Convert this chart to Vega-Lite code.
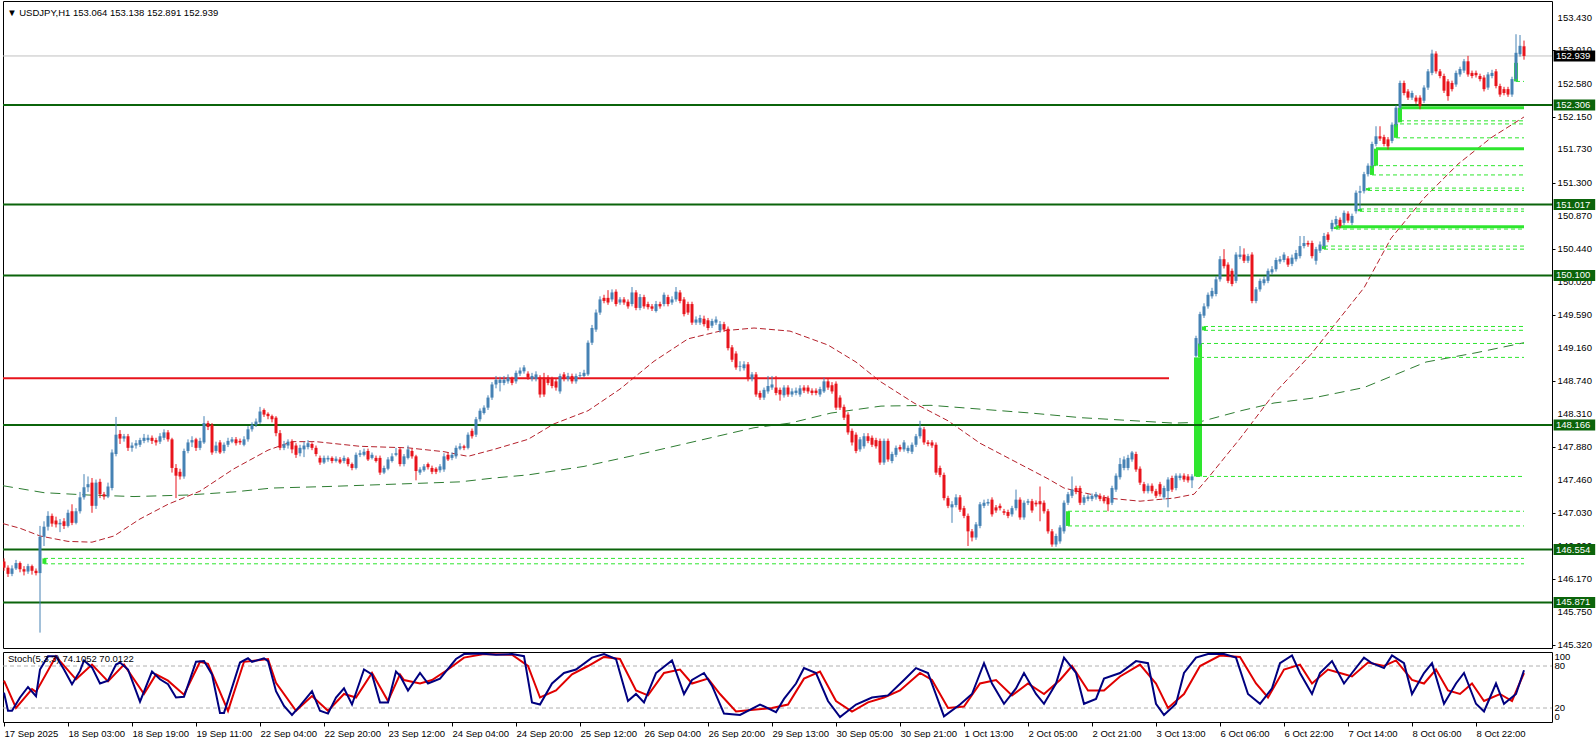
{
"$schema":"https://vega.github.io/schema/vega-lite/v6.json",
"padding":{"left":2,"top":0,"right":0,"bottom":0},
"spacing":4,
"bounds":"flush",
"background":"white",
"config":{"view":{"stroke":"#000000","strokeWidth":1},"font":"Liberation Sans","axis":{"labelFont":"Liberation Sans","labelFontSize":9.5,"labelColor":"#000","tickColor":"#000","domain":false,"grid":false,"labelOverlap":false,"labelBound":false}},
"datasets":{
"cd":[
{"i":0,"o":146.40,"h":146.44,"l":146.28,"c":146.32},{"i":1,"o":146.32,"h":146.35,"l":146.20,"c":146.24},{"i":2,"o":146.24,"h":146.35,"l":146.21,"c":146.31},{"i":3,"o":146.31,"h":146.42,"l":146.29,"c":146.38},{"i":4,"o":146.38,"h":146.40,"l":146.26,"c":146.30},{"i":5,"o":146.30,"h":146.34,"l":146.22,"c":146.27},{"i":6,"o":146.27,"h":146.37,"l":146.24,"c":146.34},{"i":7,"o":146.34,"h":146.36,"l":146.23,"c":146.28},{"i":8,"o":146.28,"h":146.31,"l":146.22,"c":146.25},{"i":9,"o":146.25,"h":146.86,"l":145.48,"c":146.72},
{"i":10,"o":146.72,"h":146.92,"l":146.60,"c":146.85},{"i":11,"o":146.85,"h":147.05,"l":146.80,"c":146.99},{"i":12,"o":146.99,"h":147.02,"l":146.85,"c":146.89},{"i":13,"o":146.93,"h":146.98,"l":146.84,"c":146.88},{"i":14,"o":146.88,"h":146.95,"l":146.78,"c":146.90},{"i":15,"o":146.92,"h":146.96,"l":146.82,"c":146.86},{"i":16,"o":146.86,"h":147.07,"l":146.84,"c":147.03},{"i":17,"o":147.05,"h":147.14,"l":146.87,"c":146.90},{"i":18,"o":146.90,"h":147.09,"l":146.88,"c":147.05},{"i":19,"o":147.05,"h":147.30,"l":147.02,"c":147.23},
{"i":20,"o":147.23,"h":147.53,"l":147.20,"c":147.36},{"i":21,"o":147.36,"h":147.50,"l":147.30,"c":147.40},{"i":22,"o":147.42,"h":147.48,"l":147.03,"c":147.12},{"i":23,"o":147.12,"h":147.46,"l":147.08,"c":147.42},{"i":24,"o":147.43,"h":147.47,"l":147.22,"c":147.27},{"i":25,"o":147.27,"h":147.30,"l":147.20,"c":147.24},{"i":26,"o":147.24,"h":147.42,"l":147.22,"c":147.37},{"i":27,"o":147.35,"h":147.85,"l":147.32,"c":147.81},{"i":28,"o":147.79,"h":148.27,"l":147.76,"c":148.04},{"i":29,"o":148.05,"h":148.10,"l":147.92,"c":147.99},
{"i":30,"o":147.99,"h":148.05,"l":147.95,"c":148.02},{"i":31,"o":148.02,"h":148.05,"l":147.83,"c":147.87},{"i":32,"o":147.87,"h":147.94,"l":147.82,"c":147.90},{"i":33,"o":147.90,"h":147.97,"l":147.86,"c":147.93},{"i":34,"o":147.91,"h":148.00,"l":147.88,"c":147.97},{"i":35,"o":147.96,"h":148.05,"l":147.93,"c":148.00},{"i":36,"o":147.97,"h":148.04,"l":147.94,"c":148.00},{"i":37,"o":148.00,"h":148.03,"l":147.92,"c":147.96},{"i":38,"o":147.97,"h":148.00,"l":147.90,"c":147.94},{"i":39,"o":147.95,"h":148.06,"l":147.92,"c":148.02},
{"i":40,"o":148.00,"h":148.11,"l":147.97,"c":148.07},{"i":41,"o":148.07,"h":148.10,"l":147.95,"c":147.98},{"i":42,"o":147.98,"h":148.00,"l":147.55,"c":147.61},{"i":43,"o":147.61,"h":147.66,"l":147.22,"c":147.51},{"i":44,"o":147.56,"h":147.60,"l":147.46,"c":147.50},{"i":45,"o":147.50,"h":147.86,"l":147.47,"c":147.83},{"i":46,"o":147.83,"h":147.98,"l":147.80,"c":147.94},{"i":47,"o":147.94,"h":148.02,"l":147.88,"c":147.97},{"i":48,"o":147.98,"h":148.00,"l":147.83,"c":147.87},{"i":49,"o":147.87,"h":148.00,"l":147.84,"c":147.96},
{"i":50,"o":147.94,"h":148.28,"l":147.92,"c":148.19},{"i":51,"o":148.19,"h":148.22,"l":148.10,"c":148.14},{"i":52,"o":148.17,"h":148.19,"l":147.78,"c":147.81},{"i":53,"o":147.83,"h":147.95,"l":147.80,"c":147.90},{"i":54,"o":147.94,"h":147.97,"l":147.79,"c":147.81},{"i":55,"o":147.83,"h":147.94,"l":147.80,"c":147.91},{"i":56,"o":147.91,"h":148.00,"l":147.88,"c":147.96},{"i":57,"o":147.95,"h":148.01,"l":147.93,"c":147.98},{"i":58,"o":147.98,"h":148.01,"l":147.90,"c":147.93},{"i":59,"o":147.96,"h":147.99,"l":147.91,"c":147.94},
{"i":60,"o":147.91,"h":148.02,"l":147.89,"c":147.98},{"i":61,"o":147.98,"h":148.15,"l":147.95,"c":148.11},{"i":62,"o":148.11,"h":148.20,"l":148.08,"c":148.17},{"i":63,"o":148.17,"h":148.25,"l":148.14,"c":148.21},{"i":64,"o":148.20,"h":148.40,"l":148.18,"c":148.34},{"i":65,"o":148.36,"h":148.38,"l":148.27,"c":148.30},{"i":66,"o":148.31,"h":148.33,"l":148.24,"c":148.28},{"i":67,"o":148.28,"h":148.30,"l":148.20,"c":148.24},{"i":68,"o":148.26,"h":148.28,"l":148.02,"c":148.06},{"i":69,"o":148.06,"h":148.10,"l":147.84,"c":147.87},
{"i":70,"o":147.87,"h":147.96,"l":147.84,"c":147.92},{"i":71,"o":147.90,"h":147.98,"l":147.86,"c":147.95},{"i":72,"o":147.95,"h":147.98,"l":147.80,"c":147.85},{"i":73,"o":147.90,"h":147.93,"l":147.74,"c":147.78},{"i":74,"o":147.80,"h":147.91,"l":147.76,"c":147.87},{"i":75,"o":147.85,"h":147.95,"l":147.75,"c":147.90},{"i":76,"o":147.88,"h":147.97,"l":147.85,"c":147.93},{"i":77,"o":147.92,"h":147.94,"l":147.84,"c":147.87},{"i":78,"o":147.87,"h":147.90,"l":147.76,"c":147.79},{"i":79,"o":147.74,"h":147.77,"l":147.65,"c":147.68},
{"i":80,"o":147.68,"h":147.77,"l":147.66,"c":147.74},{"i":81,"o":147.72,"h":147.77,"l":147.69,"c":147.74},{"i":82,"o":147.74,"h":147.76,"l":147.67,"c":147.70},{"i":83,"o":147.70,"h":147.76,"l":147.68,"c":147.73},{"i":84,"o":147.72,"h":147.75,"l":147.66,"c":147.68},{"i":85,"o":147.70,"h":147.77,"l":147.67,"c":147.74},{"i":86,"o":147.73,"h":147.75,"l":147.63,"c":147.66},{"i":87,"o":147.66,"h":147.68,"l":147.58,"c":147.61},{"i":88,"o":147.61,"h":147.81,"l":147.59,"c":147.78},{"i":89,"o":147.78,"h":147.84,"l":147.75,"c":147.80},
{"i":90,"o":147.78,"h":147.86,"l":147.76,"c":147.82},{"i":91,"o":147.83,"h":147.86,"l":147.70,"c":147.72},{"i":92,"o":147.74,"h":147.81,"l":147.72,"c":147.78},{"i":93,"o":147.74,"h":147.77,"l":147.68,"c":147.70},{"i":94,"o":147.74,"h":147.77,"l":147.52,"c":147.55},{"i":95,"o":147.55,"h":147.64,"l":147.53,"c":147.61},{"i":96,"o":147.60,"h":147.75,"l":147.58,"c":147.72},{"i":97,"o":147.70,"h":147.80,"l":147.68,"c":147.76},{"i":98,"o":147.78,"h":147.87,"l":147.76,"c":147.80},{"i":99,"o":147.85,"h":147.88,"l":147.63,"c":147.66},
{"i":100,"o":147.66,"h":147.79,"l":147.63,"c":147.76},{"i":101,"o":147.74,"h":147.90,"l":147.72,"c":147.85},{"i":102,"o":147.83,"h":147.86,"l":147.73,"c":147.76},{"i":103,"o":147.76,"h":147.78,"l":147.45,"c":147.57},{"i":104,"o":147.55,"h":147.62,"l":147.52,"c":147.59},{"i":105,"o":147.58,"h":147.66,"l":147.56,"c":147.63},{"i":106,"o":147.66,"h":147.68,"l":147.59,"c":147.62},{"i":107,"o":147.61,"h":147.64,"l":147.53,"c":147.56},{"i":108,"o":147.60,"h":147.62,"l":147.53,"c":147.56},{"i":109,"o":147.58,"h":147.66,"l":147.55,"c":147.63},
{"i":110,"o":147.59,"h":147.80,"l":147.56,"c":147.76},{"i":111,"o":147.78,"h":147.81,"l":147.70,"c":147.72},{"i":112,"o":147.74,"h":147.81,"l":147.71,"c":147.78},{"i":113,"o":147.76,"h":147.90,"l":147.73,"c":147.87},{"i":114,"o":147.86,"h":147.93,"l":147.84,"c":147.89},{"i":115,"o":147.89,"h":147.91,"l":147.84,"c":147.87},{"i":116,"o":147.87,"h":148.07,"l":147.85,"c":148.04},{"i":117,"o":148.09,"h":148.12,"l":147.99,"c":148.02},{"i":118,"o":148.04,"h":148.27,"l":148.01,"c":148.24},{"i":119,"o":148.24,"h":148.38,"l":148.21,"c":148.35},
{"i":120,"o":148.32,"h":148.42,"l":148.30,"c":148.39},{"i":121,"o":148.39,"h":148.55,"l":148.36,"c":148.52},{"i":122,"o":148.52,"h":148.72,"l":148.49,"c":148.69},{"i":123,"o":148.69,"h":148.80,"l":148.64,"c":148.75},{"i":124,"o":148.71,"h":148.79,"l":148.60,"c":148.75},{"i":125,"o":148.71,"h":148.80,"l":148.68,"c":148.75},{"i":126,"o":148.73,"h":148.82,"l":148.70,"c":148.78},{"i":127,"o":148.76,"h":148.79,"l":148.68,"c":148.71},{"i":128,"o":148.73,"h":148.87,"l":148.70,"c":148.84},{"i":129,"o":148.83,"h":148.91,"l":148.80,"c":148.87},
{"i":130,"o":148.86,"h":148.94,"l":148.83,"c":148.91},{"i":131,"o":148.83,"h":148.86,"l":148.75,"c":148.78},{"i":132,"o":148.76,"h":148.84,"l":148.73,"c":148.80},{"i":133,"o":148.76,"h":148.86,"l":148.73,"c":148.82},{"i":134,"o":148.78,"h":148.81,"l":148.52,"c":148.56},{"i":135,"o":148.78,"h":148.84,"l":148.53,"c":148.56},{"i":136,"o":148.78,"h":148.81,"l":148.68,"c":148.71},{"i":137,"o":148.76,"h":148.79,"l":148.64,"c":148.67},{"i":138,"o":148.73,"h":148.76,"l":148.61,"c":148.65},{"i":139,"o":148.60,"h":148.83,"l":148.57,"c":148.80},
{"i":140,"o":148.82,"h":148.85,"l":148.73,"c":148.76},{"i":141,"o":148.76,"h":148.84,"l":148.73,"c":148.80},{"i":142,"o":148.80,"h":148.83,"l":148.70,"c":148.73},{"i":143,"o":148.73,"h":148.83,"l":148.70,"c":148.80},{"i":144,"o":148.80,"h":148.85,"l":148.77,"c":148.81},{"i":145,"o":148.80,"h":148.88,"l":148.78,"c":148.84},{"i":146,"o":148.82,"h":149.26,"l":148.80,"c":149.23},{"i":147,"o":149.23,"h":149.46,"l":149.20,"c":149.42},{"i":148,"o":149.40,"h":149.66,"l":149.37,"c":149.62},{"i":149,"o":149.62,"h":149.83,"l":149.59,"c":149.79},
{"i":150,"o":149.81,"h":149.85,"l":149.74,"c":149.77},{"i":151,"o":149.81,"h":149.91,"l":149.72,"c":149.75},{"i":152,"o":149.79,"h":149.92,"l":149.76,"c":149.88},{"i":153,"o":149.89,"h":149.92,"l":149.70,"c":149.73},{"i":154,"o":149.75,"h":149.82,"l":149.72,"c":149.79},{"i":155,"o":149.79,"h":149.82,"l":149.72,"c":149.75},{"i":156,"o":149.76,"h":149.79,"l":149.67,"c":149.70},{"i":157,"o":149.73,"h":149.95,"l":149.70,"c":149.88},{"i":158,"o":149.88,"h":149.91,"l":149.65,"c":149.68},{"i":159,"o":149.68,"h":149.86,"l":149.65,"c":149.82},
{"i":160,"o":149.82,"h":149.85,"l":149.67,"c":149.70},{"i":161,"o":149.73,"h":149.76,"l":149.66,"c":149.69},{"i":162,"o":149.70,"h":149.73,"l":149.64,"c":149.67},{"i":163,"o":149.64,"h":149.77,"l":149.62,"c":149.73},{"i":164,"o":149.73,"h":149.76,"l":149.67,"c":149.70},{"i":165,"o":149.73,"h":149.88,"l":149.70,"c":149.85},{"i":166,"o":149.82,"h":149.85,"l":149.70,"c":149.73},{"i":167,"o":149.75,"h":149.83,"l":149.72,"c":149.79},{"i":168,"o":149.79,"h":149.95,"l":149.76,"c":149.89},{"i":169,"o":149.88,"h":149.91,"l":149.74,"c":149.77},
{"i":170,"o":149.79,"h":149.82,"l":149.57,"c":149.60},{"i":171,"o":149.73,"h":149.76,"l":149.59,"c":149.62},{"i":172,"o":149.73,"h":149.76,"l":149.46,"c":149.49},{"i":173,"o":149.49,"h":149.57,"l":149.46,"c":149.53},{"i":174,"o":149.49,"h":149.59,"l":149.46,"c":149.55},{"i":175,"o":149.54,"h":149.58,"l":149.44,"c":149.47},{"i":176,"o":149.52,"h":149.55,"l":149.39,"c":149.42},{"i":177,"o":149.45,"h":149.54,"l":149.42,"c":149.51},{"i":178,"o":149.49,"h":149.57,"l":149.46,"c":149.53},{"i":179,"o":149.39,"h":149.51,"l":149.36,"c":149.47},
{"i":180,"o":149.47,"h":149.50,"l":149.37,"c":149.40},{"i":181,"o":149.41,"h":149.44,"l":149.13,"c":149.16},{"i":182,"o":149.17,"h":149.20,"l":148.98,"c":149.01},{"i":183,"o":149.09,"h":149.12,"l":148.88,"c":148.91},{"i":184,"o":148.92,"h":148.99,"l":148.86,"c":148.93},{"i":185,"o":148.90,"h":148.99,"l":148.87,"c":148.95},{"i":186,"o":148.95,"h":148.98,"l":148.73,"c":148.76},{"i":187,"o":148.76,"h":148.85,"l":148.73,"c":148.82},{"i":188,"o":148.82,"h":148.85,"l":148.53,"c":148.56},{"i":189,"o":148.58,"h":148.61,"l":148.49,"c":148.52},
{"i":190,"o":148.52,"h":148.65,"l":148.49,"c":148.62},{"i":191,"o":148.60,"h":148.80,"l":148.57,"c":148.67},{"i":192,"o":148.65,"h":148.80,"l":148.62,"c":148.69},{"i":193,"o":148.65,"h":148.80,"l":148.55,"c":148.58},{"i":194,"o":148.62,"h":148.65,"l":148.48,"c":148.56},{"i":195,"o":148.55,"h":148.68,"l":148.52,"c":148.65},{"i":196,"o":148.65,"h":148.68,"l":148.53,"c":148.56},{"i":197,"o":148.56,"h":148.64,"l":148.53,"c":148.60},{"i":198,"o":148.58,"h":148.65,"l":148.55,"c":148.61},{"i":199,"o":148.56,"h":148.68,"l":148.53,"c":148.64},
{"i":200,"o":148.65,"h":148.68,"l":148.58,"c":148.61},{"i":201,"o":148.65,"h":148.68,"l":148.57,"c":148.60},{"i":202,"o":148.61,"h":148.64,"l":148.55,"c":148.58},{"i":203,"o":148.61,"h":148.64,"l":148.55,"c":148.58},{"i":204,"o":148.56,"h":148.66,"l":148.53,"c":148.63},{"i":205,"o":148.60,"h":148.78,"l":148.58,"c":148.73},{"i":206,"o":148.73,"h":148.76,"l":148.62,"c":148.65},{"i":207,"o":148.68,"h":148.72,"l":148.57,"c":148.60},{"i":208,"o":148.70,"h":148.73,"l":148.36,"c":148.39},{"i":209,"o":148.52,"h":148.55,"l":148.36,"c":148.39},
{"i":210,"o":148.40,"h":148.43,"l":148.23,"c":148.26},{"i":211,"o":148.30,"h":148.33,"l":148.04,"c":148.07},{"i":212,"o":148.09,"h":148.12,"l":147.90,"c":147.94},{"i":213,"o":148.04,"h":148.07,"l":147.80,"c":147.83},{"i":214,"o":147.85,"h":148.01,"l":147.82,"c":147.98},{"i":215,"o":147.89,"h":148.06,"l":147.86,"c":148.02},{"i":216,"o":148.02,"h":148.06,"l":147.93,"c":147.96},{"i":217,"o":148.00,"h":148.03,"l":147.88,"c":147.91},{"i":218,"o":147.97,"h":148.00,"l":147.86,"c":147.89},{"i":219,"o":147.96,"h":147.99,"l":147.65,"c":147.68},
{"i":220,"o":147.68,"h":147.99,"l":147.65,"c":147.96},{"i":221,"o":147.96,"h":147.99,"l":147.69,"c":147.72},{"i":222,"o":147.70,"h":147.82,"l":147.67,"c":147.79},{"i":223,"o":147.78,"h":147.90,"l":147.75,"c":147.87},{"i":224,"o":147.88,"h":147.91,"l":147.82,"c":147.85},{"i":225,"o":147.85,"h":147.97,"l":147.82,"c":147.94},{"i":226,"o":147.83,"h":147.90,"l":147.80,"c":147.87},{"i":227,"o":147.82,"h":147.94,"l":147.79,"c":147.91},{"i":228,"o":147.91,"h":148.05,"l":147.88,"c":148.02},{"i":229,"o":148.02,"h":148.22,"l":147.99,"c":148.13},
{"i":230,"o":148.11,"h":148.14,"l":147.91,"c":147.94},{"i":231,"o":147.94,"h":147.97,"l":147.89,"c":147.92},{"i":232,"o":147.94,"h":147.97,"l":147.87,"c":147.90},{"i":233,"o":147.91,"h":147.94,"l":147.52,"c":147.55},{"i":234,"o":147.61,"h":147.64,"l":147.49,"c":147.52},{"i":235,"o":147.52,"h":147.55,"l":147.19,"c":147.22},{"i":236,"o":147.22,"h":147.25,"l":147.09,"c":147.12},{"i":237,"o":147.10,"h":147.18,"l":146.90,"c":147.14},{"i":238,"o":147.13,"h":147.27,"l":147.10,"c":147.23},{"i":239,"o":147.23,"h":147.26,"l":147.04,"c":147.07},
{"i":240,"o":147.09,"h":147.12,"l":146.96,"c":146.99},{"i":241,"o":146.99,"h":147.02,"l":146.60,"c":146.79},{"i":242,"o":146.79,"h":146.82,"l":146.66,"c":146.71},{"i":243,"o":146.71,"h":146.91,"l":146.68,"c":146.88},{"i":244,"o":146.86,"h":147.17,"l":146.83,"c":147.14},{"i":245,"o":147.12,"h":147.20,"l":147.09,"c":147.16},{"i":246,"o":147.15,"h":147.21,"l":147.12,"c":147.17},{"i":247,"o":147.20,"h":147.23,"l":146.98,"c":147.01},{"i":248,"o":147.10,"h":147.13,"l":147.03,"c":147.06},{"i":249,"o":147.12,"h":147.15,"l":147.06,"c":147.09},
{"i":250,"o":147.05,"h":147.08,"l":147.00,"c":147.03},{"i":251,"o":147.04,"h":147.07,"l":146.96,"c":146.99},{"i":252,"o":147.01,"h":147.12,"l":146.98,"c":147.09},{"i":253,"o":147.09,"h":147.33,"l":147.06,"c":147.20},{"i":254,"o":147.20,"h":147.23,"l":146.94,"c":146.97},{"i":255,"o":146.97,"h":147.19,"l":146.94,"c":147.16},{"i":256,"o":147.16,"h":147.21,"l":147.13,"c":147.18},{"i":257,"o":147.18,"h":147.21,"l":147.03,"c":147.06},{"i":258,"o":147.16,"h":147.19,"l":147.11,"c":147.14},{"i":259,"o":147.18,"h":147.37,"l":146.92,"c":147.14},
{"i":260,"o":147.16,"h":147.19,"l":147.02,"c":147.05},{"i":261,"o":147.05,"h":147.08,"l":146.76,"c":146.79},{"i":262,"o":146.79,"h":146.82,"l":146.59,"c":146.62},{"i":263,"o":146.62,"h":146.76,"l":146.59,"c":146.73},{"i":264,"o":146.66,"h":146.87,"l":146.63,"c":146.84},{"i":265,"o":146.79,"h":147.19,"l":146.76,"c":147.16},{"i":266,"o":147.16,"h":147.30,"l":147.13,"c":147.27},{"i":267,"o":147.25,"h":147.50,"l":147.22,"c":147.33},{"i":268,"o":147.35,"h":147.38,"l":147.27,"c":147.30},{"i":269,"o":147.35,"h":147.38,"l":147.13,"c":147.16},
{"i":270,"o":147.16,"h":147.26,"l":147.13,"c":147.23},{"i":271,"o":147.21,"h":147.27,"l":147.18,"c":147.24},{"i":272,"o":147.21,"h":147.28,"l":147.18,"c":147.25},{"i":273,"o":147.23,"h":147.30,"l":147.20,"c":147.27},{"i":274,"o":147.25,"h":147.28,"l":147.18,"c":147.21},{"i":275,"o":147.23,"h":147.26,"l":147.15,"c":147.18},{"i":276,"o":147.22,"h":147.25,"l":147.05,"c":147.14},{"i":277,"o":147.16,"h":147.38,"l":147.13,"c":147.35},{"i":278,"o":147.33,"h":147.54,"l":147.30,"c":147.51},{"i":279,"o":147.49,"h":147.74,"l":147.46,"c":147.66},
{"i":280,"o":147.61,"h":147.76,"l":147.58,"c":147.72},{"i":281,"o":147.61,"h":147.78,"l":147.58,"c":147.74},{"i":282,"o":147.72,"h":147.83,"l":147.69,"c":147.81},{"i":283,"o":147.79,"h":147.82,"l":147.56,"c":147.59},{"i":284,"o":147.60,"h":147.63,"l":147.39,"c":147.42},{"i":285,"o":147.40,"h":147.43,"l":147.28,"c":147.31},{"i":286,"o":147.31,"h":147.41,"l":147.28,"c":147.38},{"i":287,"o":147.38,"h":147.41,"l":147.28,"c":147.31},{"i":288,"o":147.31,"h":147.34,"l":147.22,"c":147.25},{"i":289,"o":147.40,"h":147.43,"l":147.24,"c":147.27},
{"i":290,"o":147.23,"h":147.38,"l":147.20,"c":147.35},{"i":291,"o":147.31,"h":147.49,"l":147.10,"c":147.46},{"i":292,"o":147.48,"h":147.51,"l":147.30,"c":147.33},{"i":293,"o":147.35,"h":147.54,"l":147.32,"c":147.51},{"i":294,"o":147.48,"h":147.54,"l":147.45,"c":147.51},{"i":295,"o":147.51,"h":147.54,"l":147.43,"c":147.46},{"i":296,"o":147.50,"h":147.53,"l":147.42,"c":147.45},{"i":297,"o":147.45,"h":147.53,"l":147.35,"c":147.50},{"i":298,"o":149.06,"h":149.32,"l":149.04,"c":149.29},{"i":299,"o":149.21,"h":149.63,"l":149.18,"c":149.60},
{"i":300,"o":149.58,"h":149.74,"l":149.55,"c":149.70},{"i":301,"o":149.70,"h":149.88,"l":149.67,"c":149.85},{"i":302,"o":149.83,"h":149.94,"l":149.80,"c":149.90},{"i":303,"o":149.86,"h":150.09,"l":149.83,"c":150.05},{"i":304,"o":150.05,"h":150.35,"l":150.02,"c":150.31},{"i":305,"o":150.31,"h":150.44,"l":150.19,"c":150.22},{"i":306,"o":150.24,"h":150.27,"l":150.00,"c":150.03},{"i":307,"o":150.16,"h":150.19,"l":149.96,"c":149.99},{"i":308,"o":150.03,"h":150.40,"l":150.00,"c":150.37},{"i":309,"o":150.34,"h":150.48,"l":150.31,"c":150.37},
{"i":310,"o":150.37,"h":150.45,"l":150.26,"c":150.29},{"i":311,"o":150.29,"h":150.38,"l":150.26,"c":150.35},{"i":312,"o":150.37,"h":150.40,"l":149.74,"c":149.77},{"i":313,"o":149.77,"h":149.95,"l":149.74,"c":149.92},{"i":314,"o":149.92,"h":150.06,"l":149.89,"c":150.03},{"i":315,"o":150.00,"h":150.09,"l":149.97,"c":150.05},{"i":316,"o":150.03,"h":150.19,"l":150.00,"c":150.16},{"i":317,"o":150.14,"h":150.22,"l":150.11,"c":150.18},{"i":318,"o":150.18,"h":150.33,"l":150.15,"c":150.30},{"i":319,"o":150.28,"h":150.35,"l":150.25,"c":150.31},
{"i":320,"o":150.30,"h":150.40,"l":150.27,"c":150.37},{"i":321,"o":150.32,"h":150.35,"l":150.21,"c":150.24},{"i":322,"o":150.25,"h":150.37,"l":150.22,"c":150.33},{"i":323,"o":150.31,"h":150.43,"l":150.28,"c":150.39},{"i":324,"o":150.35,"h":150.61,"l":150.32,"c":150.48},{"i":325,"o":150.48,"h":150.61,"l":150.45,"c":150.52},{"i":326,"o":150.52,"h":150.55,"l":150.47,"c":150.50},{"i":327,"o":150.52,"h":150.55,"l":150.32,"c":150.35},{"i":328,"o":150.29,"h":150.47,"l":150.24,"c":150.44},{"i":329,"o":150.42,"h":150.54,"l":150.39,"c":150.50},
{"i":330,"o":150.48,"h":150.65,"l":150.45,"c":150.61},{"i":331,"o":150.63,"h":150.66,"l":150.53,"c":150.56},{"i":332,"o":150.70,"h":150.82,"l":150.67,"c":150.78},{"i":333,"o":150.76,"h":150.87,"l":150.73,"c":150.83},{"i":334,"o":150.82,"h":150.85,"l":150.71,"c":150.74},{"i":335,"o":150.78,"h":150.94,"l":150.75,"c":150.91},{"i":336,"o":150.90,"h":150.93,"l":150.78,"c":150.81},{"i":337,"o":150.78,"h":150.90,"l":150.75,"c":150.87},{"i":338,"o":150.93,"h":151.20,"l":150.90,"c":151.17},{"i":339,"o":151.17,"h":151.26,"l":150.95,"c":151.19},
{"i":340,"o":151.19,"h":151.44,"l":151.16,"c":151.41},{"i":341,"o":151.41,"h":151.55,"l":151.38,"c":151.52},{"i":342,"o":151.52,"h":151.83,"l":151.49,"c":151.80},{"i":343,"o":151.80,"h":152.03,"l":151.77,"c":151.90},{"i":344,"o":151.90,"h":152.03,"l":151.84,"c":151.87},{"i":345,"o":151.89,"h":151.92,"l":151.77,"c":151.80},{"i":346,"o":151.86,"h":151.89,"l":151.73,"c":151.77},{"i":347,"o":151.84,"h":152.08,"l":151.81,"c":152.05},{"i":348,"o":152.05,"h":152.30,"l":152.02,"c":152.27},{"i":349,"o":152.27,"h":152.62,"l":152.24,"c":152.59},
{"i":350,"o":152.59,"h":152.62,"l":152.43,"c":152.46},{"i":351,"o":152.48,"h":152.51,"l":152.37,"c":152.40},{"i":352,"o":152.40,"h":152.49,"l":152.37,"c":152.46},{"i":353,"o":152.40,"h":152.43,"l":152.32,"c":152.35},{"i":354,"o":152.40,"h":152.43,"l":152.25,"c":152.29},{"i":355,"o":152.36,"h":152.56,"l":152.33,"c":152.53},{"i":356,"o":152.53,"h":152.77,"l":152.50,"c":152.74},{"i":357,"o":152.72,"h":153.02,"l":152.69,"c":152.97},{"i":358,"o":152.97,"h":153.00,"l":152.71,"c":152.74},{"i":359,"o":152.74,"h":152.77,"l":152.65,"c":152.68},
{"i":360,"o":152.68,"h":152.71,"l":152.46,"c":152.49},{"i":361,"o":152.61,"h":152.64,"l":152.36,"c":152.42},{"i":362,"o":152.59,"h":152.62,"l":152.48,"c":152.51},{"i":363,"o":152.57,"h":152.75,"l":152.54,"c":152.72},{"i":364,"o":152.70,"h":152.80,"l":152.67,"c":152.77},{"i":365,"o":152.75,"h":152.90,"l":152.72,"c":152.87},{"i":366,"o":152.87,"h":152.94,"l":152.67,"c":152.70},{"i":367,"o":152.72,"h":152.75,"l":152.65,"c":152.68},{"i":368,"o":152.72,"h":152.75,"l":152.66,"c":152.69},{"i":369,"o":152.68,"h":152.71,"l":152.61,"c":152.64},
{"i":370,"o":152.66,"h":152.69,"l":152.48,"c":152.51},{"i":371,"o":152.53,"h":152.73,"l":152.50,"c":152.70},{"i":372,"o":152.68,"h":152.76,"l":152.65,"c":152.72},{"i":373,"o":152.74,"h":152.77,"l":152.52,"c":152.55},{"i":374,"o":152.55,"h":152.58,"l":152.41,"c":152.44},{"i":375,"o":152.51,"h":152.54,"l":152.43,"c":152.46},{"i":376,"o":152.51,"h":152.54,"l":152.41,"c":152.44},{"i":377,"o":152.44,"h":152.67,"l":152.41,"c":152.64},{"i":378,"o":152.64,"h":153.22,"l":152.61,"c":152.98},{"i":379,"o":152.96,"h":153.21,"l":152.93,"c":153.07},
{"i":380,"o":153.064,"h":153.138,"l":152.891,"c":152.939}
],
"maR":[{"i":-0.25,"p":146.89},{"i":4,"p":146.83},{"i":9,"p":146.73},{"i":16,"p":146.66},{"i":22,"p":146.65},{"i":27.5,"p":146.73},{"i":34,"p":146.95},{"i":41,"p":147.14},{"i":49,"p":147.31},{"i":57.5,"p":147.60},{"i":66,"p":147.84},{"i":72,"p":147.95},{"i":78,"p":147.95},{"i":89,"p":147.89},{"i":101,"p":147.87},{"i":110,"p":147.82},{"i":116,"p":147.76},{"i":122.5,"p":147.85},{"i":131,"p":147.98},{"i":137.5,"p":148.18},{"i":146,"p":148.35},{"i":154,"p":148.63},{"i":162.5,"p":148.99},{"i":171,"p":149.28},{"i":179,"p":149.38},{"i":187.5,"p":149.42},{"i":196.5,"p":149.38},{"i":206,"p":149.20},{"i":213,"p":148.98},{"i":219,"p":148.73},{"i":227.5,"p":148.45},{"i":236,"p":148.22},{"i":244,"p":147.93},{"i":252.5,"p":147.70},{"i":261,"p":147.47},{"i":265,"p":147.35},{"i":269,"p":147.30},{"i":276,"p":147.22},{"i":284,"p":147.18},{"i":292.5,"p":147.22},{"i":297.5,"p":147.27},{"i":301,"p":147.48},{"i":309,"p":147.99},{"i":317.5,"p":148.57},{"i":326.75,"p":149.08},{"i":340,"p":149.94},{"i":346.75,"p":150.58},{"i":355,"p":151.10},{"i":363.5,"p":151.54},{"i":371.75,"p":151.88},{"i":380,"p":152.15}],
"maG":[{"i":-0.25,"p":147.38},{"i":10,"p":147.29},{"i":21,"p":147.26},{"i":32.5,"p":147.24},{"i":46,"p":147.26},{"i":57.5,"p":147.30},{"i":67,"p":147.35},{"i":81,"p":147.37},{"i":97.5,"p":147.40},{"i":114,"p":147.43},{"i":122.5,"p":147.48},{"i":131,"p":147.52},{"i":145,"p":147.63},{"i":160,"p":147.80},{"i":175,"p":147.98},{"i":187.5,"p":148.13},{"i":196.5,"p":148.19},{"i":206.75,"p":148.32},{"i":219.25,"p":148.41},{"i":231.75,"p":148.42},{"i":244.25,"p":148.37},{"i":256.75,"p":148.32},{"i":269.25,"p":148.26},{"i":276,"p":148.24},{"i":292.5,"p":148.19},{"i":298.5,"p":148.20},{"i":309.25,"p":148.35},{"i":317.5,"p":148.45},{"i":326.75,"p":148.51},{"i":340,"p":148.65},{"i":355.5,"p":148.98},{"i":368,"p":149.10},{"i":380,"p":149.23}],
"dash":[{"a":10,"b":380,"p":146.44},{"a":10,"b":380,"p":146.37},{"a":266,"b":380,"p":147.05},{"a":266,"b":380,"p":146.86},{"a":298,"b":380,"p":147.50},{"a":299,"b":380,"p":149.04},{"a":299,"b":380,"p":149.22},{"a":300,"b":380,"p":149.39},{"a":300,"b":380,"p":149.44},{"a":330,"b":380,"p":150.48},{"a":330,"b":380,"p":150.44},{"a":333,"b":380,"p":150.70},{"a":339,"b":380,"p":150.96},{"a":339,"b":380,"p":150.93},{"a":341,"b":380,"p":151.23},{"a":341,"b":380,"p":151.20},{"a":342,"b":380,"p":151.52},{"a":342,"b":380,"p":151.40},{"a":348,"b":380,"p":151.88},{"a":349,"b":380,"p":152.10},{"a":349,"b":380,"p":152.06},{"a":378,"b":380,"p":152.61}],
"thick":[{"a":349,"b":380,"p":152.27},{"a":343,"b":380,"p":151.74},{"a":333,"b":380,"p":150.73}],
"gbox":[{"a":9.6,"b":10.6,"p1":146.37,"p2":146.44},{"a":265.5,"b":266.5,"p1":146.86,"p2":147.05},{"a":297.5,"b":299.5,"p1":147.50,"p2":149.04},{"a":298.5,"b":299.5,"p1":149.04,"p2":149.22},{"a":299.5,"b":300.5,"p1":149.39,"p2":149.44},{"a":329.5,"b":330.5,"p1":150.44,"p2":150.48},{"a":332.5,"b":333.5,"p1":150.70,"p2":150.73},{"a":338.5,"b":339.5,"p1":150.93,"p2":150.96},{"a":340.5,"b":341.5,"p1":151.20,"p2":151.23},{"a":341.5,"b":342.5,"p1":151.40,"p2":151.52},{"a":342.5,"b":343.5,"p1":151.52,"p2":151.74},{"a":347.5,"b":348.5,"p1":151.88,"p2":152.06},{"a":348.5,"b":349.5,"p1":152.08,"p2":152.27},{"a":377.5,"b":378.5,"p1":152.61,"p2":152.85}],
"lv":[{"p":152.306},{"p":151.017},{"p":150.1},{"p":148.166},{"p":146.554},{"p":145.871}],
"tags":[{"p":152.939,"t":"152.939","k":"bid"},{"p":152.306,"t":"152.306","k":"lvl"},{"p":151.017,"t":"151.017","k":"lvl"},{"p":150.1,"t":"150.100","k":"lvl"},{"p":148.166,"t":"148.166","k":"lvl"},{"p":146.554,"t":"146.554","k":"lvl"},{"p":145.871,"t":"145.871","k":"lvl"}],
"yt":[{"p":145.32,"t":"145.320"},{"p":145.75,"t":"145.750"},{"p":146.17,"t":"146.170"},{"p":146.6,"t":"146.600"},{"p":147.03,"t":"147.030"},{"p":147.46,"t":"147.460"},{"p":147.88,"t":"147.880"},{"p":148.31,"t":"148.310"},{"p":148.74,"t":"148.740"},{"p":149.16,"t":"149.160"},{"p":149.59,"t":"149.590"},{"p":150.02,"t":"150.020"},{"p":150.44,"t":"150.440"},{"p":150.87,"t":"150.870"},{"p":151.3,"t":"151.300"},{"p":151.73,"t":"151.730"},{"p":152.15,"t":"152.150"},{"p":152.58,"t":"152.580"},{"p":153.01,"t":"153.010"},{"p":153.43,"t":"153.430"}],
"sk":[{"i":0,"v":42},{"i":1,"v":16},{"i":2,"v":16},{"i":4,"v":35},{"i":6,"v":50},{"i":8,"v":37},{"i":9,"v":75},{"i":11,"v":94},{"i":13,"v":94},{"i":15,"v":75},{"i":17,"v":54},{"i":19,"v":73},{"i":20,"v":88},{"i":22,"v":78},{"i":24,"v":55},{"i":26,"v":59},{"i":28,"v":82},{"i":29,"v":85},{"i":31,"v":75},{"i":34,"v":29},{"i":37,"v":72},{"i":39,"v":61},{"i":41,"v":54},{"i":43,"v":35},{"i":45,"v":36},{"i":48,"v":86},{"i":50,"v":87},{"i":52,"v":68},{"i":54,"v":13},{"i":55,"v":13},{"i":59,"v":85},{"i":61,"v":91},{"i":62,"v":86},{"i":65,"v":91},{"i":66,"v":87},{"i":68,"v":44},{"i":70,"v":23},{"i":72,"v":10},{"i":74,"v":23},{"i":77,"v":44},{"i":79,"v":16},{"i":81,"v":12},{"i":83,"v":35},{"i":85,"v":48},{"i":87,"v":25},{"i":90,"v":75},{"i":92,"v":68},{"i":94,"v":28},{"i":96,"v":28},{"i":98,"v":72},{"i":99,"v":66},{"i":101,"v":45},{"i":104,"v":70},{"i":106,"v":55},{"i":109,"v":62},{"i":113,"v":90},{"i":115,"v":97},{"i":119,"v":98},{"i":123,"v":96},{"i":127,"v":97},{"i":130,"v":94},{"i":132,"v":28},{"i":134,"v":25},{"i":137,"v":55},{"i":140,"v":70},{"i":143,"v":75},{"i":147,"v":92},{"i":150,"v":97},{"i":153,"v":90},{"i":156,"v":30},{"i":158,"v":40},{"i":160,"v":28},{"i":163,"v":70},{"i":167,"v":88},{"i":170,"v":40},{"i":172,"v":60},{"i":175,"v":70},{"i":177,"v":52},{"i":180,"v":12},{"i":184,"v":10},{"i":189,"v":25},{"i":193,"v":14},{"i":195,"v":33},{"i":198,"v":55},{"i":200,"v":77},{"i":203,"v":70},{"i":206,"v":30},{"i":209,"v":7},{"i":213,"v":25},{"i":217,"v":35},{"i":221,"v":38},{"i":225,"v":60},{"i":228,"v":77},{"i":231,"v":70},{"i":235,"v":8},{"i":239,"v":25},{"i":242,"v":40},{"i":245,"v":84},{"i":247,"v":55},{"i":250,"v":26},{"i":253,"v":48},{"i":255,"v":70},{"i":258,"v":40},{"i":260,"v":26},{"i":263,"v":55},{"i":265,"v":92},{"i":268,"v":70},{"i":270,"v":26},{"i":273,"v":33},{"i":275,"v":62},{"i":279,"v":70},{"i":283,"v":87},{"i":286,"v":84},{"i":288,"v":26},{"i":290,"v":10},{"i":293,"v":26},{"i":295,"v":70},{"i":298,"v":92},{"i":301,"v":97},{"i":305,"v":97},{"i":308,"v":92},{"i":311,"v":40},{"i":314,"v":26},{"i":317,"v":48},{"i":319,"v":84},{"i":322,"v":95},{"i":324,"v":70},{"i":327,"v":40},{"i":329,"v":70},{"i":332,"v":87},{"i":335,"v":55},{"i":337,"v":70},{"i":340,"v":92},{"i":342,"v":84},{"i":345,"v":77},{"i":347,"v":95},{"i":350,"v":84},{"i":352,"v":40},{"i":355,"v":70},{"i":357,"v":84},{"i":360,"v":26},{"i":363,"v":55},{"i":365,"v":70},{"i":368,"v":26},{"i":370,"v":15},{"i":373,"v":55},{"i":375,"v":26},{"i":378,"v":40},{"i":380,"v":74}],
"sd":[{"i":0,"v":59},{"i":3,"v":20},{"i":7,"v":47},{"i":8,"v":43},{"i":13,"v":94},{"i":14,"v":87},{"i":18,"v":61},{"i":22,"v":82},{"i":26,"v":58},{"i":30,"v":82},{"i":35,"v":40},{"i":38,"v":68},{"i":41,"v":59},{"i":45,"v":39},{"i":49,"v":86},{"i":51,"v":83},{"i":56,"v":16},{"i":60,"v":86},{"i":66,"v":90},{"i":68,"v":56},{"i":73,"v":16},{"i":77,"v":37},{"i":81,"v":16},{"i":85,"v":40},{"i":88,"v":35},{"i":92,"v":70},{"i":96,"v":30},{"i":99,"v":68},{"i":100,"v":60},{"i":104,"v":55},{"i":107,"v":60},{"i":111,"v":75},{"i":115,"v":92},{"i":120,"v":97},{"i":127,"v":96},{"i":131,"v":80},{"i":134,"v":35},{"i":138,"v":45},{"i":142,"v":68},{"i":146,"v":80},{"i":150,"v":93},{"i":154,"v":90},{"i":158,"v":45},{"i":161,"v":38},{"i":165,"v":70},{"i":169,"v":75},{"i":172,"v":55},{"i":176,"v":62},{"i":179,"v":40},{"i":183,"v":15},{"i":188,"v":18},{"i":192,"v":20},{"i":196,"v":25},{"i":200,"v":62},{"i":204,"v":72},{"i":208,"v":30},{"i":212,"v":15},{"i":216,"v":28},{"i":220,"v":35},{"i":224,"v":45},{"i":229,"v":70},{"i":232,"v":60},{"i":236,"v":20},{"i":240,"v":22},{"i":244,"v":55},{"i":248,"v":60},{"i":252,"v":38},{"i":256,"v":55},{"i":260,"v":40},{"i":264,"v":60},{"i":267,"v":80},{"i":271,"v":45},{"i":275,"v":45},{"i":279,"v":65},{"i":284,"v":82},{"i":288,"v":55},{"i":291,"v":20},{"i":295,"v":40},{"i":299,"v":80},{"i":304,"v":95},{"i":309,"v":93},{"i":313,"v":55},{"i":316,"v":35},{"i":320,"v":75},{"i":324,"v":82},{"i":327,"v":55},{"i":331,"v":75},{"i":334,"v":70},{"i":337,"v":65},{"i":341,"v":85},{"i":345,"v":80},{"i":348,"v":88},{"i":352,"v":60},{"i":355,"v":55},{"i":358,"v":75},{"i":361,"v":45},{"i":364,"v":40},{"i":367,"v":55},{"i":370,"v":30},{"i":374,"v":40},{"i":377,"v":30},{"i":380,"v":70}]
},
"vconcat":[
{
"width":1549,"height":647,
"layer":[
{"data":{"name":"cd"},"mark":{"type":"rule","strokeWidth":1,"opacity":0},
 "encoding":{"x":{"field":"i","type":"quantitative","scale":{"domain":[-0.25,387],"nice":false,"zero":false},"axis":null,"title":null},"y":{"field":"l","type":"quantitative","scale":{"domain":[145.281,153.65],"nice":false,"zero":false},"title":null,"axis":{"orient":"right","values":[145.32,145.75,146.17,146.6,147.03,147.46,147.88,148.31,148.74,149.16,149.59,150.02,150.44,150.87,151.3,151.73,152.15,152.58,153.01,153.43],"labels":false,"tickSize":3,"title":null}},"y2":{"field":"h"}}},
{"data":{"values":[{"p":152.939,"a":-0.25,"b":387}]},"mark":{"type":"rule","color":"#c0c0c0","strokeWidth":1,"clip":true},
 "encoding":{"x":{"field":"a","type":"quantitative","axis":null,"title":null},"x2":{"field":"b"},"y":{"field":"p","type":"quantitative","title":null}}},
{"data":{"name":"maG"},"mark":{"type":"line","color":"#2e7d32","strokeWidth":1,"strokeDash":[10,6],"clip":true},
 "encoding":{"x":{"field":"i","type":"quantitative","axis":null,"title":null},"y":{"field":"p","type":"quantitative","title":null}}},
{"data":{"name":"maR"},"mark":{"type":"line","color":"#b5202a","strokeWidth":1,"strokeDash":[6,3],"clip":true},
 "encoding":{"x":{"field":"i","type":"quantitative","axis":null,"title":null},"y":{"field":"p","type":"quantitative","title":null}}},
{"data":{"name":"dash"},"mark":{"type":"rule","color":"#2ee62e","strokeWidth":1,"strokeDash":[4,3],"clip":true},
 "encoding":{"x":{"field":"a","type":"quantitative","axis":null,"title":null},"x2":{"field":"b"},"y":{"field":"p","type":"quantitative","title":null}}},
{"data":{"name":"thick"},"mark":{"type":"rule","color":"#2ee62e","strokeWidth":3,"clip":true},
 "encoding":{"x":{"field":"a","type":"quantitative","axis":null,"title":null},"x2":{"field":"b"},"y":{"field":"p","type":"quantitative","title":null}}},
{"data":{"name":"gbox"},"mark":{"type":"rect","color":"#2ee62e","clip":true},
 "encoding":{"x":{"field":"a","type":"quantitative","axis":null,"title":null},"x2":{"field":"b"},"y":{"field":"p1","type":"quantitative","title":null},"y2":{"field":"p2"}}},
{"data":{"name":"lv"},"mark":{"type":"rule","color":"#0b640b","strokeWidth":2,"clip":true},
 "encoding":{"x":{"datum":-0.25,"type":"quantitative","axis":null,"title":null},"x2":{"datum":387},"y":{"field":"p","type":"quantitative","title":null}}},
{"data":{"values":[{"p":148.77,"a":-0.25,"b":291.25}]},"mark":{"type":"rule","color":"#e8141c","strokeWidth":2,"clip":true},
 "encoding":{"x":{"field":"a","type":"quantitative","axis":null,"title":null},"x2":{"field":"b"},"y":{"field":"p","type":"quantitative","title":null}}},
{"data":{"name":"cd"},"mark":{"type":"rule","strokeWidth":1,"clip":true},
 "encoding":{"x":{"field":"i","type":"quantitative","axis":null,"title":null},"y":{"field":"l","type":"quantitative","title":null},"y2":{"field":"h"},
 "color":{"condition":{"test":"datum.c >= datum.o","value":"#4682b4"},"value":"#e8141c"}}},
{"data":{"name":"cd"},"mark":{"type":"rule","strokeWidth":3,"strokeCap":"butt","clip":true},
 "encoding":{"x":{"field":"i","type":"quantitative","axis":null,"title":null},"y":{"field":"o","type":"quantitative","title":null},"y2":{"field":"c"},
 "color":{"condition":{"test":"datum.c >= datum.o","value":"#4682b4"},"value":"#e8141c"}}},
{"data":{"name":"yt"},"mark":{"type":"text","align":"left","baseline":"middle","color":"#000000","font":"Liberation Sans","fontSize":9.5},
 "encoding":{"x":{"datum":388.4,"type":"quantitative","axis":null,"title":null},"y":{"field":"p","type":"quantitative","title":null},"text":{"field":"t"}}},
{"data":{"name":"tags"},"mark":{"type":"rule","strokeWidth":11,"strokeCap":"butt"},
 "encoding":{"x":{"datum":387.4,"type":"quantitative","axis":null,"title":null},"x2":{"datum":397.8},"y":{"field":"p","type":"quantitative","title":null},
 "color":{"field":"k","type":"nominal","scale":{"domain":["bid","lvl"],"range":["#000000","#0b640b"]},"legend":null}}},
{"data":{"name":"tags"},"mark":{"type":"text","align":"left","baseline":"middle","color":"#ffffff","font":"Liberation Sans","fontSize":9.5},
 "encoding":{"x":{"datum":388.0,"type":"quantitative","axis":null,"title":null},"y":{"field":"p","type":"quantitative","title":null},"text":{"field":"t"}}},
{"data":{"values":[{"t":"\u25bc USDJPY,H1  153.064 153.138 152.891 152.939"}]},"mark":{"type":"text","align":"left","baseline":"middle","color":"#000000","font":"Liberation Sans","fontSize":9.5},
 "encoding":{"x":{"datum":0.8,"type":"quantitative","axis":null,"title":null},"y":{"datum":153.50,"type":"quantitative","title":null},"text":{"field":"t"}}}
]
},
{
"width":1549,"height":70,
"layer":[
{"data":{"name":"sk"},"mark":{"type":"line","color":"#00007f","strokeWidth":2,"opacity":0},
 "encoding":{"x":{"field":"i","type":"quantitative","scale":{"domain":[-0.25,387],"nice":false,"zero":false},"title":null,
 "axis":{"values":[0,16,32,48,64,80,96,112,128,144,160,176,192,208,224,240,256,272,288,304,320,336,352,368],"labelExpr":"['17 Sep 2025','18 Sep 03:00','18 Sep 19:00','19 Sep 11:00','22 Sep 04:00','22 Sep 20:00','23 Sep 12:00','24 Sep 04:00','24 Sep 20:00','25 Sep 12:00','26 Sep 04:00','26 Sep 20:00','29 Sep 13:00','30 Sep 05:00','30 Sep 21:00','1 Oct 13:00','2 Oct 05:00','2 Oct 21:00','3 Oct 13:00','6 Oct 06:00','6 Oct 22:00','7 Oct 14:00','8 Oct 06:00','8 Oct 22:00'][round(datum.value/16)]","labelAlign":"left","labelPadding":2,"tickSize":4,"labelOverlap":false,"labelBound":false,"labelFlush":false,"labelFontSize":9.5,"title":null}},
 "y":{"field":"v","type":"quantitative","scale":{"domain":[0,100],"nice":false,"zero":false},"title":null}}},
{"data":{"values":[{"v":20,"a":-0.25,"b":387},{"v":80,"a":-0.25,"b":387}]},"mark":{"type":"rule","color":"#b0b0b0","strokeWidth":1,"strokeDash":[4,3],"clip":true},
 "encoding":{"x":{"field":"a","type":"quantitative","title":null},"x2":{"field":"b"},"y":{"field":"v","type":"quantitative","title":null,"axis":null}}},
{"data":{"name":"sd"},"mark":{"type":"line","color":"#e00000","strokeWidth":2,"clip":true},
 "encoding":{"x":{"field":"i","type":"quantitative","title":null},"y":{"field":"v","type":"quantitative","title":null,"axis":null}}},
{"data":{"name":"sk"},"mark":{"type":"line","color":"#00007f","strokeWidth":2,"clip":true},
 "encoding":{"x":{"field":"i","type":"quantitative","title":null},"y":{"field":"v","type":"quantitative","title":null,"axis":null}}},
{"data":{"values":[{"v":80,"t":"80"},{"v":20,"t":"20"}]},"mark":{"type":"text","align":"left","baseline":"middle","color":"#000000","font":"Liberation Sans","fontSize":9.5},
 "encoding":{"x":{"datum":387.6,"type":"quantitative","title":null},"y":{"field":"v","type":"quantitative","title":null,"axis":null},"text":{"field":"t"}}},
{"data":{"values":[{"v":100,"t":"100"}]},"mark":{"type":"text","align":"left","baseline":"top","color":"#000000","font":"Liberation Sans","fontSize":9.5},
 "encoding":{"x":{"datum":387.6,"type":"quantitative","title":null},"y":{"field":"v","type":"quantitative","title":null,"axis":null},"text":{"field":"t"}}},
{"data":{"values":[{"v":0,"t":"0"}]},"mark":{"type":"text","align":"left","baseline":"bottom","color":"#000000","font":"Liberation Sans","fontSize":9.5},
 "encoding":{"x":{"datum":387.6,"type":"quantitative","title":null},"y":{"field":"v","type":"quantitative","title":null,"axis":null},"text":{"field":"t"}}},
{"data":{"values":[{"t":"Stoch(5,3,3) 74.1052 70.0122"}]},"mark":{"type":"text","align":"left","baseline":"middle","color":"#000000","font":"Liberation Sans","fontSize":9.5},
 "encoding":{"x":{"datum":1.0,"type":"quantitative","title":null},"y":{"datum":90,"type":"quantitative","title":null,"axis":null},"text":{"field":"t"}}}
]
}
]
}
